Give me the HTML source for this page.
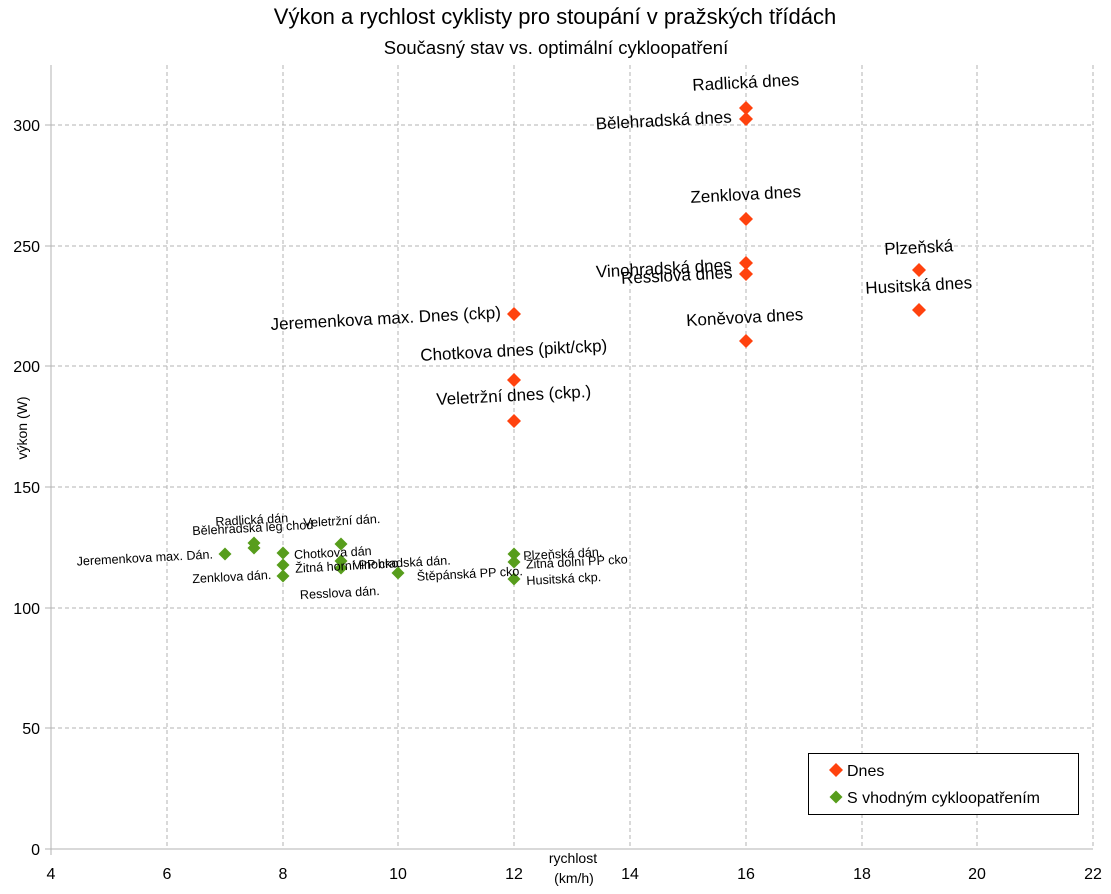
<!DOCTYPE html>
<html><head><meta charset="utf-8"><style>
html,body{margin:0;padding:0;background:#fff}
svg{display:block}
text{font-family:"Liberation Sans",sans-serif;fill:#000}
</style></head><body>
<svg width="1111" height="894" viewBox="0 0 1111 894" xmlns="http://www.w3.org/2000/svg">
<defs>
<path id="dr" d="M0,-7 L7,0 L0,7 L-7,0Z" fill="#ff420e"/>
<path id="dg" d="M0,-6.5 L6.5,0 L0,6.5 L-6.5,0Z" fill="#579d1c"/>
</defs>
<text x="555" y="24" font-size="22" text-anchor="middle">Výkon a rychlost cyklisty pro stoupání v pražských třídách</text>
<text x="556" y="54" font-size="18.5" text-anchor="middle">Současný stav vs. optimální cykloopatření</text>
<g stroke="#b3b3b3" stroke-width="1" stroke-dasharray="4,3">
<line x1="51" y1="125" x2="1093" y2="125"/><line x1="51" y1="246" x2="1093" y2="246"/>
<line x1="51" y1="366" x2="1093" y2="366"/><line x1="51" y1="487" x2="1093" y2="487"/>
<line x1="51" y1="608" x2="1093" y2="608"/><line x1="51" y1="728" x2="1093" y2="728"/>
<line x1="167" y1="65" x2="167" y2="849"/><line x1="283" y1="65" x2="283" y2="849"/>
<line x1="398" y1="65" x2="398" y2="849"/><line x1="514" y1="65" x2="514" y2="849"/>
<line x1="630" y1="65" x2="630" y2="849"/><line x1="746" y1="65" x2="746" y2="849"/>
<line x1="862" y1="65" x2="862" y2="849"/><line x1="977" y1="65" x2="977" y2="849"/>
<line x1="1093" y1="65" x2="1093" y2="849"/>
</g>
<g stroke="#b3b3b3" stroke-width="1">
<line x1="51" y1="65" x2="51" y2="855"/><line x1="45" y1="849" x2="1093" y2="849"/>
<line x1="45" y1="125" x2="51" y2="125"/><line x1="45" y1="246" x2="51" y2="246"/><line x1="45" y1="366" x2="51" y2="366"/><line x1="45" y1="487" x2="51" y2="487"/><line x1="45" y1="608" x2="51" y2="608"/><line x1="45" y1="728" x2="51" y2="728"/>
</g>
<g font-size="16" text-anchor="end">
<text x="40" y="131">300</text><text x="40" y="252">250</text><text x="40" y="372">200</text><text x="40" y="493">150</text><text x="40" y="614">100</text><text x="40" y="734">50</text><text x="40" y="855">0</text>
</g>
<g font-size="16" text-anchor="middle">
<text x="51" y="879">4</text><text x="167" y="879">6</text><text x="283" y="879">8</text><text x="398" y="879">10</text><text x="514" y="879">12</text><text x="630" y="879">14</text><text x="746" y="879">16</text><text x="862" y="879">18</text><text x="977" y="879">20</text><text x="1093" y="879">22</text>
</g>
<text x="573" y="863" font-size="14" text-anchor="middle">rychlost</text>
<text x="574" y="883" font-size="14" text-anchor="middle">(km/h)</text>
<text transform="translate(27,428) rotate(-90)" font-size="14" text-anchor="middle">výkon (W)</text>
<use href="#dr" x="746" y="108"/><use href="#dr" x="746" y="119"/><use href="#dr" x="746" y="219"/>
<use href="#dr" x="746" y="263"/><use href="#dr" x="746" y="274"/><use href="#dr" x="746" y="341"/>
<use href="#dr" x="919" y="270"/><use href="#dr" x="919" y="310"/>
<use href="#dr" x="514" y="314"/><use href="#dr" x="514" y="380"/><use href="#dr" x="514" y="421"/>
<g font-size="17" text-anchor="middle">
<text transform="translate(746,88) rotate(-3)">Radlická dnes</text>
<text transform="translate(664,126) rotate(-3)">Bělehradská dnes</text>
<text transform="translate(746,200) rotate(-3)">Zenklova dnes</text>
<text transform="translate(664,274) rotate(-3)">Vinohradská dnes</text>
<text transform="translate(677,281) rotate(-3)">Resslova dnes</text>
<text transform="translate(745,323) rotate(-3)">Koněvova dnes</text>
<text transform="translate(919,253) rotate(-3)">Plzeňská</text>
<text transform="translate(919,291) rotate(-3)">Husitská dnes</text>
<text transform="translate(386,324) rotate(-3)">Jeremenkova max. Dnes (ckp)</text>
<text transform="translate(514,356) rotate(-3)">Chotkova dnes (pikt/ckp)</text>
<text transform="translate(514,401) rotate(-3)">Veletržní dnes (ckp.)</text>
</g>
<use href="#dg" x="225" y="554"/><use href="#dg" x="254" y="543"/><use href="#dg" x="254" y="548"/>
<use href="#dg" x="283" y="553"/><use href="#dg" x="283" y="565"/><use href="#dg" x="283" y="576"/>
<use href="#dg" x="341" y="544"/><use href="#dg" x="341" y="561"/><use href="#dg" x="341" y="568"/>
<use href="#dg" x="398" y="573"/>
<use href="#dg" x="514" y="554"/><use href="#dg" x="514" y="562"/><use href="#dg" x="514" y="579"/>
<g font-size="12.6" text-anchor="middle">
<text transform="translate(145,562) rotate(-3)">Jeremenkova max. Dán.</text>
<text transform="translate(252,524) rotate(-3)">Radlická dán</text>
<text transform="translate(253,532) rotate(-3)">Bělehradská leg chod</text>
<text transform="translate(342,525) rotate(-3)">Veletržní dán.</text>
<text transform="translate(333,557) rotate(-3)">Chotkova dán</text>
<text transform="translate(347,570) rotate(-3)">Žitná horní PP cko</text>
<text transform="translate(402,567) rotate(-3)">Vinohradská dán.</text>
<text transform="translate(232,581) rotate(-3)">Zenklova dán.</text>
<text transform="translate(340,597) rotate(-3)">Resslova dán.</text>
<text transform="translate(470,578) rotate(-3)">Štěpánská PP cko.</text>
<text transform="translate(563,558) rotate(-3)">Plzeňská dán.</text>
<text transform="translate(577,566) rotate(-3)">Žitná dolní PP cko</text>
<text transform="translate(564,583) rotate(-3)">Husitská ckp.</text>
</g>
<rect x="808.5" y="753.5" width="270" height="61" fill="#fff" stroke="#000" stroke-width="1"/>
<use href="#dr" x="836" y="770"/><use href="#dg" x="836" y="797"/>
<text x="847" y="776" font-size="16">Dnes</text>
<text x="847" y="803" font-size="16">S vhodným cykloopatřením</text>
</svg>
</body></html>
